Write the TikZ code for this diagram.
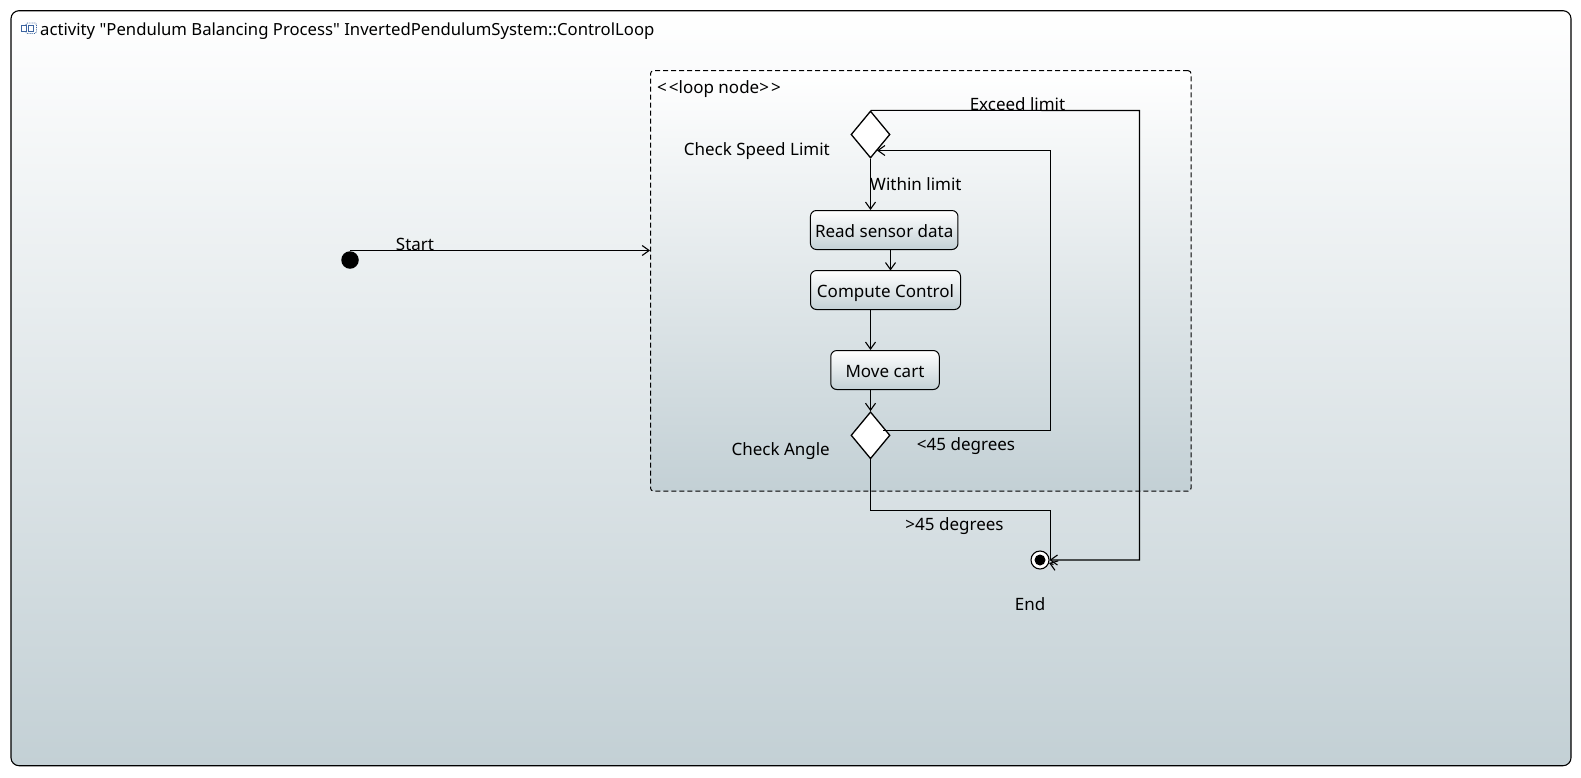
\documentclass[tikz,border=0pt]{standalone}
\usepackage{fontspec}
\setmainfont{Noto Sans}
\newfontfamily\titlefont{Noto Sans}
\usetikzlibrary{arrows.meta, shapes.geometric}
\definecolor{shadeend}{RGB}{195,208,213}
\definecolor{iconblue}{RGB}{60,100,160}
\tikzset{
	flow/.style={draw=black, line width=1.1pt, -{Straight Barb[length=7pt, width=10pt]}},
	edge/.style={draw=black, line width=1.1pt},
	lbl/.style={inner sep=0pt, text height=13pt, text depth=4pt, font=\fontsize{17}{20}\selectfont},
	action/.style={draw=black, line width=1pt, rounded corners=6pt, top color=white,
		bottom color=shadeend, inner sep=0pt, minimum height=39pt, text height=16pt, text depth=2pt,
		font=\fontsize{17}{20}\selectfont},
	decision/.style={draw=black, line width=1.3pt, fill=white, diamond, inner sep=0pt,
		minimum width=39pt, minimum height=47pt},
}
\begin{document}
\begin{tikzpicture}[x=1pt, y=-1pt]
	\useasboundingbox (0, 0) rectangle (1581, 777);
	\node[draw=black, line width=1.1pt, rounded corners=8pt, top color=white, bottom color=shadeend,
		minimum width=1560pt, minimum height=755pt, inner sep=0pt] (frame) at (791, 388.2) {};
	\node[draw=black, line width=1pt, dash pattern=on 5pt off 3pt, rounded corners=3pt, top color=white,
		bottom color=shadeend, minimum width=540.5pt, minimum height=420.5pt, inner sep=0pt] (loop) at (920.8, 280.9) {};

	\draw[draw=iconblue, rounded corners=1.5pt, densely dotted, thick] (26, 23) rectangle (36.5, 33.5);
	\draw[draw=iconblue, fill=white] (21, 25.5) rectangle (26.5, 31);
	\draw[draw=iconblue, fill=white] (28.5, 25.5) rectangle (33.5, 31);

	\node[lbl, anchor=west, font=\titlefont\fontsize{16.7}{20}\selectfont] (title) at (40, 30.5)
		{activity "Pendulum Balancing Process" InvertedPendulumSystem::ControlLoop};
	\node[lbl, anchor=west] (looplabel) at (657, 88.5) {<\kern2pt<loop node>\kern2pt>};

	\node[circle, fill=black, inner sep=0pt, minimum size=17.5pt] (start) at (350, 260) {};
	\node[circle, draw=black, line width=1.1pt, fill=white, inner sep=0pt, minimum size=18pt] (finish) at (1040, 560) {};
	\node[circle, fill=black, inner sep=0pt, minimum size=11pt] (finishdot) at (1040, 560) {};

	\node[decision] (speed) at (870.5, 134.5) {};
	\node[decision] (angle) at (870.5, 435.3) {};
	\node[action, minimum width=147.5pt] (read) at (884.2, 230) {Read sensor data};
	\node[action, minimum width=150pt] (compute) at (885.5, 290) {Compute Control};
	\node[action, minimum width=108.5pt] (move) at (885, 370) {Move cart};

	\coordinate (startturn) at (350, 250.5);
	\coordinate (exceedturn) at (1139.5, 110.5);
	\coordinate (exceeddown) at (1139.5, 560);
	\coordinate (lessturn) at (1050.5, 430.5);
	\coordinate (lessup) at (1050.5, 150.5);
	\coordinate (speedback) at (877, 150.5);
	\coordinate (anglestart) at (883, 430.5);
	\coordinate (greaterturn) at (870.5, 510.5);
	\coordinate (greaterdown) at (1050.5, 510.5);
	\coordinate (greaterend) at (1050.5, 560);
	\coordinate (greatertip) at (1053.5, 564.5);
	\coordinate (readout) at (890.5, 249.5);
	\coordinate (computein) at (890.5, 270.5);

	\draw[flow] (startturn) -- (startturn -| loop.west);
	\draw[flow] (speed.south) -- (speed.south |- read.north);
	\draw[flow] (readout) -- (computein);
	\draw[flow] (speed.south |- compute.south) -- (speed.south |- move.north);
	\draw[flow] (speed.south |- move.south) -- (angle.north);
	\draw[flow] (anglestart) -- (lessturn) -- (lessup) -- (speedback);
	\draw[flow] (speed.north) -- (exceedturn) -- (exceeddown) -- (finish.east);
	\draw[edge] (angle.south) -- (greaterturn) -- (greaterdown) -- (greaterend);
	\draw[flow] (greatertip) -- (finish.-18);

	\node[lbl] (startlabel) at (415, 245.5) {Start};
	\node[lbl] (exceedlabel) at (1017.5, 105.5) {Exceed limit};
	\node[lbl, anchor=east] (speedlabel) at (830, 150.5) {Check Speed Limit};
	\node[lbl, anchor=west] (withinlabel) at (870, 186) {Within limit};
	\node[lbl, anchor=east] (anglelabel) at (830, 450.5) {Check Angle};
	\node[lbl] (lesslabel) at (966, 445.5) {<45 degrees};
	\node[lbl] (greaterlabel) at (954.5, 525.5) {>45 degrees};
	\node[lbl] (endlabel) at (1030, 605.5) {End};
\end{tikzpicture}
\end{document}
